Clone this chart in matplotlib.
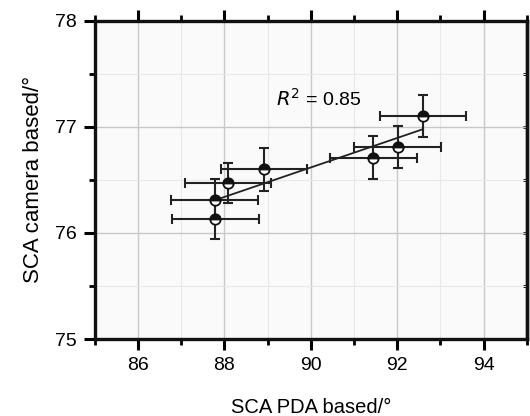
import numpy as np
import matplotlib
matplotlib.use("Agg")
import matplotlib.pyplot as plt
from matplotlib.ticker import MultipleLocator

plt.rcParams['font.family'] = ['Liberation Sans', 'DejaVu Sans']

pda = [87.79, 87.77, 88.08, 88.91, 91.45, 92.01, 92.60]
cam = [76.13, 76.31, 76.47, 76.60, 76.71, 76.81, 77.10]
pda_err = [1.0, 1.0, 1.0, 1.0, 1.0, 1.0, 1.0]
cam_err = [0.19, 0.20, 0.19, 0.20, 0.20, 0.20, 0.20]
xticks = [86, 88, 90, 92, 94]
yticks = [75, 76, 77, 78]
r2_label = "$R^2$ = 0.85"

fig = plt.figure(figsize=(5.30, 4.16), dpi=100)
ax = fig.add_axes([0.179, 0.185, 0.815, 0.765])
ax.set_facecolor('#fafafa')

ax.set_xlim(85, 95)
ax.set_ylim(75, 78)
ax.set_xticks(xticks)
ax.set_yticks(yticks)
ax.xaxis.set_minor_locator(MultipleLocator(1))
ax.yaxis.set_minor_locator(MultipleLocator(0.5))

ax.grid(which='major', color='#c8c8c8', lw=1.0)
ax.grid(which='minor', color='#e8e8e8', lw=0.8)
ax.set_axisbelow(True)

for s in ax.spines.values():
    s.set_linewidth(2.4)
    s.set_color('#111111')

ax.tick_params(which='major', direction='out', length=8, width=2.2, labelsize=14,
               top=True, right=False, pad=5)
ax.tick_params(which='minor', direction='out', length=4.5, width=2.0, top=True, right=False)

# right side: short inward ticks, no labels
sec = ax.secondary_yaxis('right')
sec.set_yticks(yticks)
sec.yaxis.set_minor_locator(MultipleLocator(0.5))
sec.tick_params(which='both', direction='in', length=3, width=2.0, labelright=False)
sec.spines['right'].set_linewidth(2.4)

# fit line
coef = np.polyfit(pda, cam, 1)
xs = np.array([min(pda), max(pda)])
ax.plot(xs, np.polyval(coef, xs), color='#222222', lw=1.3, zorder=3)

ax.errorbar(pda, cam, xerr=pda_err, yerr=cam_err, fmt='none', ecolor='#222222',
            elinewidth=1.5, capsize=3.5, capthick=1.5, zorder=4)
ax.plot(pda, cam, 'o', ms=7.5, fillstyle='top', color='#111111',
        markerfacecoloralt='white', mec='#111111', mew=1.3, zorder=5, ls='none')

ax.text(89.2, 77.26, r2_label, fontsize=14, va='center', ha='left')

ax.set_xlabel("SCA PDA based/°", fontsize=14.5, labelpad=17)
ax.set_ylabel("SCA camera based/°", fontsize=16, labelpad=8)

fig.savefig("out.png", dpi=100)
